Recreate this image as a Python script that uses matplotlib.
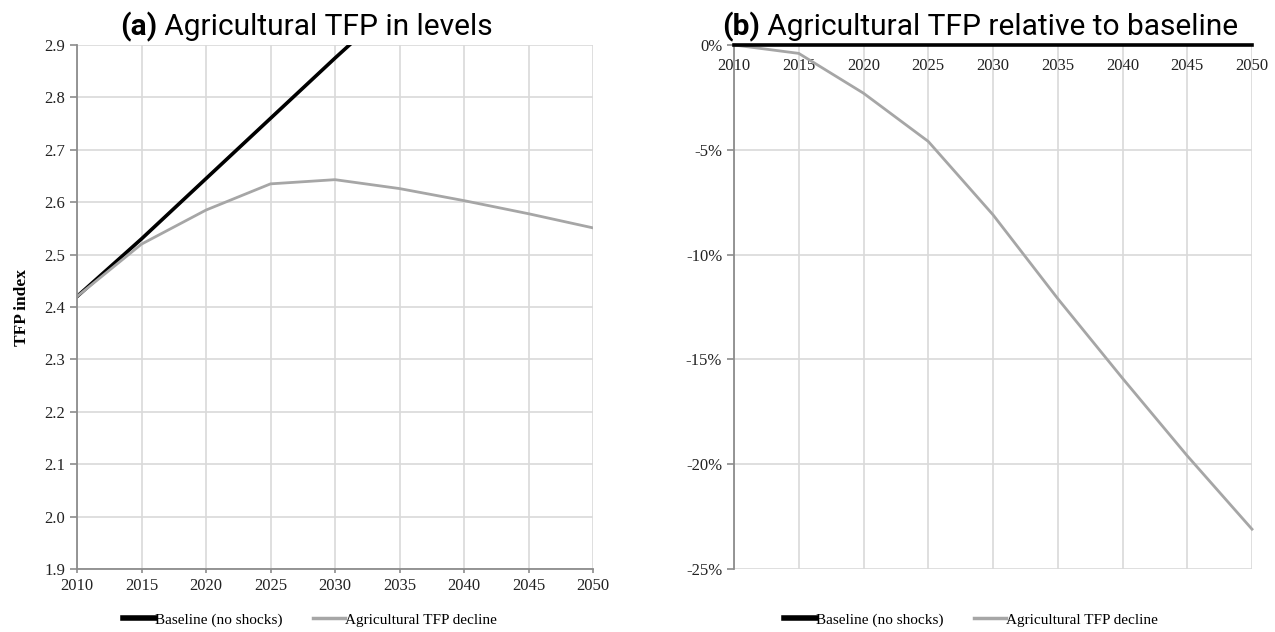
import matplotlib.pyplot as plt
import numpy as np

years = [2010, 2015, 2020, 2025, 2030, 2035, 2040, 2045, 2050]
baseline = [2.42, 2.53, 2.645, 2.76, 2.875, 2.987, 3.095, 3.206, 3.317]
tfp_decline = [2.42, 2.52, 2.585, 2.635, 2.643, 2.626, 2.603, 2.578, 2.551]
rel_baseline = [0, 0, 0, 0, 0, 0, 0, 0, 0]
rel_decline = [0.0, -0.4, -2.3, -4.6, -8.1, -12.1, -15.9, -19.6, -23.1]

plt.rcParams["font.family"] = ["Liberation Serif", "DejaVu Serif"]
grid_c = "#d9d9d9"
spine_c = "#8c8c8c"
gray = "#a6a6a6"
W, H = 1275, 632

fig = plt.figure(figsize=(W / 100, H / 100), dpi=100)
ax1 = fig.add_axes([77 / W, 1 - 569 / H, (593 - 77) / W, (569 - 45) / H])
ax2 = fig.add_axes([734 / W, 1 - 569 / H, (1252 - 734) / W, (569 - 45) / H])


def style(ax):
    for s in ["top", "right"]:
        ax.spines[s].set_visible(False)
    ax.spines["left"].set_color(spine_c)
    ax.spines["bottom"].set_color(spine_c)
    ax.spines["left"].set_linewidth(1.3)
    ax.spines["bottom"].set_linewidth(1.3)
    ax.grid(True, color=grid_c, lw=1.2)
    ax.set_axisbelow(True)
    ax.tick_params(axis="both", labelsize=12, labelcolor="#222222", color=spine_c,
                   length=5, width=1.2)
    ax.tick_params(axis="x", length=3)
    ax.set_xlim(2010, 2050)
    ax.set_xticks(years)


# (a) levels
ax1.plot(years, baseline, color="black", lw=2.2, label="Baseline (no shocks)")
ax1.plot(years, tfp_decline, color=gray, lw=2, label="Agricultural TFP decline")
ax1.set_ylim(1.9, 2.9)
yt = np.round(np.arange(1.9, 2.91, 0.1), 1)
ax1.set_yticks(yt)
ax1.set_yticklabels([f"{v:.1f}" for v in yt])
style(ax1)
ax1.set_ylabel("TFP index", fontweight="bold", fontsize=12.5, labelpad=10)

# (b) relative
ax2.plot(years, rel_baseline, color="black", lw=2.6, label="Baseline (no shocks)",
         clip_on=False, zorder=5)
ax2.plot(years, rel_decline, color=gray, lw=2, label="Agricultural TFP decline", clip_on=False)
ax2.set_ylim(-25, 0)
ax2.set_yticks([0, -5, -10, -15, -20, -25])
ax2.set_yticklabels(["0%", "-5%", "-10%", "-15%", "-20%", "-25%"])
style(ax2)
ax2.spines["bottom"].set_position(("data", 0))
ax2.spines["bottom"].set_color("black")
ax2.tick_params(axis="x", length=0, pad=9)

# legends below each panel
for ax, cx in [(ax1, 310), (ax2, 971)]:
    h, l = ax.get_legend_handles_labels()
    h[0].set_linewidth(2.6)
    leg = fig.legend(h, l, loc="center", bbox_to_anchor=(cx / W, 1 - 620 / H), ncol=2,
                     frameon=False, prop={"size": 11}, handlelength=2.1, handletextpad=0,
                     columnspacing=2.0)
    leg.get_lines()[0].set_linewidth(4)
    leg.get_lines()[1].set_linewidth(2.5)

# titles with bold prefix
fig.canvas.draw()
r = fig.canvas.get_renderer()
for pre, rest, cx in [("(a)", " Agricultural TFP in levels", 306),
                      ("(b)", " Agricultural TFP relative to baseline", 980)]:
    t1 = fig.text(0, 0, pre, fontfamily="Roboto", fontweight="bold", fontsize=21.5)
    t2 = fig.text(0, 0, rest, fontfamily="Roboto", fontsize=21.5)
    w1 = t1.get_window_extent(r).width
    w2 = t2.get_window_extent(r).width
    x0 = cx - (w1 + w2) / 2
    t1.set_position((x0 / W, 1 - 35 / H))
    t2.set_position(((x0 + w1) / W, 1 - 35 / H))

fig.savefig("out.png", dpi=100)
